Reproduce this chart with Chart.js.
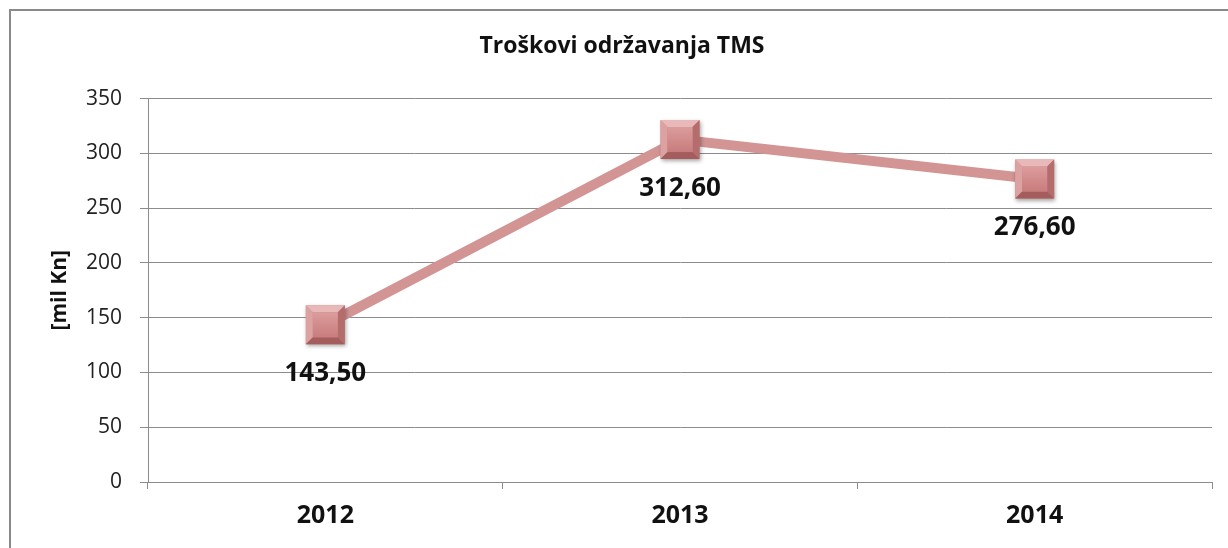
<!DOCTYPE html>
<html>
<head>
<meta charset="utf-8">
<script src="https://cdn.jsdelivr.net/npm/chart.js@4.4.0/dist/chart.umd.min.js"></script>
<style>
  html, body { margin: 0; padding: 0; background: #fff; }
  #wrap { width: 1228px; height: 548px; }
</style>
</head>
<body>
<div id="wrap"><canvas id="tmsChart" width="1228" height="548"></canvas></div>
<script>
const years = ['2012', '2013', '2014'];
const costs = [143.5, 312.6, 276.6];
const yTicks = [0, 50, 100, 150, 200, 250, 300, 350];

const FONT = '"Open Sans", sans-serif';
const LINE = '#d39494';
const GRID = '#8c8c8c';

// frame around the whole chart
const framePlugin = {
    id: 'frame',
    beforeDraw(chart) {
        const c = chart.ctx;
        c.save();
        c.strokeStyle = '#8a8a8a';
        c.lineWidth = 2;
        c.strokeRect(10, 10, 1400, 700);
        c.restore();
    }
};

function drawBevelSquare(c, x, y, s) {
    const h = s / 2, b = 7;
    const l = x - h, t = y - h, r = x + h, btm = y + h;
    c.save();
    c.shadowColor = 'rgba(0,0,0,0.35)';
    c.shadowBlur = 4;
    c.shadowOffsetX = 1;
    c.shadowOffsetY = 2;
    c.fillStyle = '#c98283';
    c.fillRect(l, t, s, s);
    c.restore();
    // bevel edges
    c.save();
    c.fillStyle = '#e9b9b9';
    c.beginPath(); c.moveTo(l, t); c.lineTo(r, t); c.lineTo(r - b, t + b); c.lineTo(l + b, t + b); c.closePath(); c.fill();
    c.fillStyle = '#dca2a2';
    c.beginPath(); c.moveTo(l, t); c.lineTo(l + b, t + b); c.lineTo(l + b, btm - b); c.lineTo(l, btm); c.closePath(); c.fill();
    c.fillStyle = '#b46c6d';
    c.beginPath(); c.moveTo(r, t); c.lineTo(r, btm); c.lineTo(r - b, btm - b); c.lineTo(r - b, t + b); c.closePath(); c.fill();
    c.fillStyle = '#a45c5d';
    c.beginPath(); c.moveTo(l, btm); c.lineTo(r, btm); c.lineTo(r - b, btm - b); c.lineTo(l + b, btm - b); c.closePath(); c.fill();
    const g = c.createLinearGradient(0, t + b, 0, btm - b);
    g.addColorStop(0, '#dc9c9c');
    g.addColorStop(1, '#c87c7d');
    c.fillStyle = g;
    c.fillRect(l + b, t + b, s - 2 * b, s - 2 * b);
    c.restore();
}

// 3D square markers and value labels
const markerPlugin = {
    id: 'markers',
    afterDatasetsDraw(chart) {
        const c = chart.ctx;
        const meta = chart.getDatasetMeta(0);
        meta.data.forEach((pt, i) => {
            drawBevelSquare(c, pt.x, pt.y, 39);
            c.save();
            c.font = 'bold 26px ' + FONT;
            c.fillStyle = '#111';
            c.textAlign = 'center';
            c.textBaseline = 'middle';
            c.fillText(costs[i].toFixed(2).replace('.', ','), pt.x, pt.y + 49);
            c.restore();
        });
    }
};

new Chart(document.getElementById('tmsChart'), {
    type: 'line',
    data: {
        labels: years,
        datasets: [{
            label: 'Troškovi',
            data: costs,
            borderColor: LINE,
            borderWidth: 10,
            pointRadius: 0,
            tension: 0,
            fill: false
        }]
    },
    options: {
        responsive: false,
        animation: false,
        layout: { padding: { left: 32, right: 16, top: 0, bottom: 0 } },
        plugins: {
            legend: { display: false },
            tooltip: { enabled: false },
            title: {
                display: true,
                text: 'Troškovi održavanja TMS',
                color: '#111',
                font: { family: FONT, size: 23, weight: 'bold', lineHeight: 1.2 },
                padding: { top: 33, bottom: 38 }
            }
        },
        scales: {
            x: {
                offset: true,
                grid: { display: true, drawOnChartArea: false, offset: true, color: GRID, tickLength: 7 },
                border: { display: true, color: GRID, width: 1 },
                ticks: { color: '#111', padding: 12, font: { family: FONT, size: 25, weight: 'bold' } },
                afterFit(scale) { scale.height = 66; }
            },
            y: {
                min: 0,
                max: 350,
                afterBuildTicks(scale) { scale.ticks = yTicks.map(v => ({ value: v })); },
                grid: { color: GRID, tickLength: 8 },
                border: { display: true, color: GRID, width: 1 },
                ticks: { color: '#222', padding: 18, font: { family: FONT, size: 21 } },
                title: {
                    display: true,
                    text: '[mil Kn]',
                    color: '#111',
                    font: { family: FONT, size: 21, weight: 'bold', lineHeight: 1.2 },
                    padding: { top: 15, bottom: 0 }
                },
                afterFit(scale) { scale.width = 116; }
            }
        }
    },
    plugins: [framePlugin, markerPlugin]
});
</script>
</body>
</html>
